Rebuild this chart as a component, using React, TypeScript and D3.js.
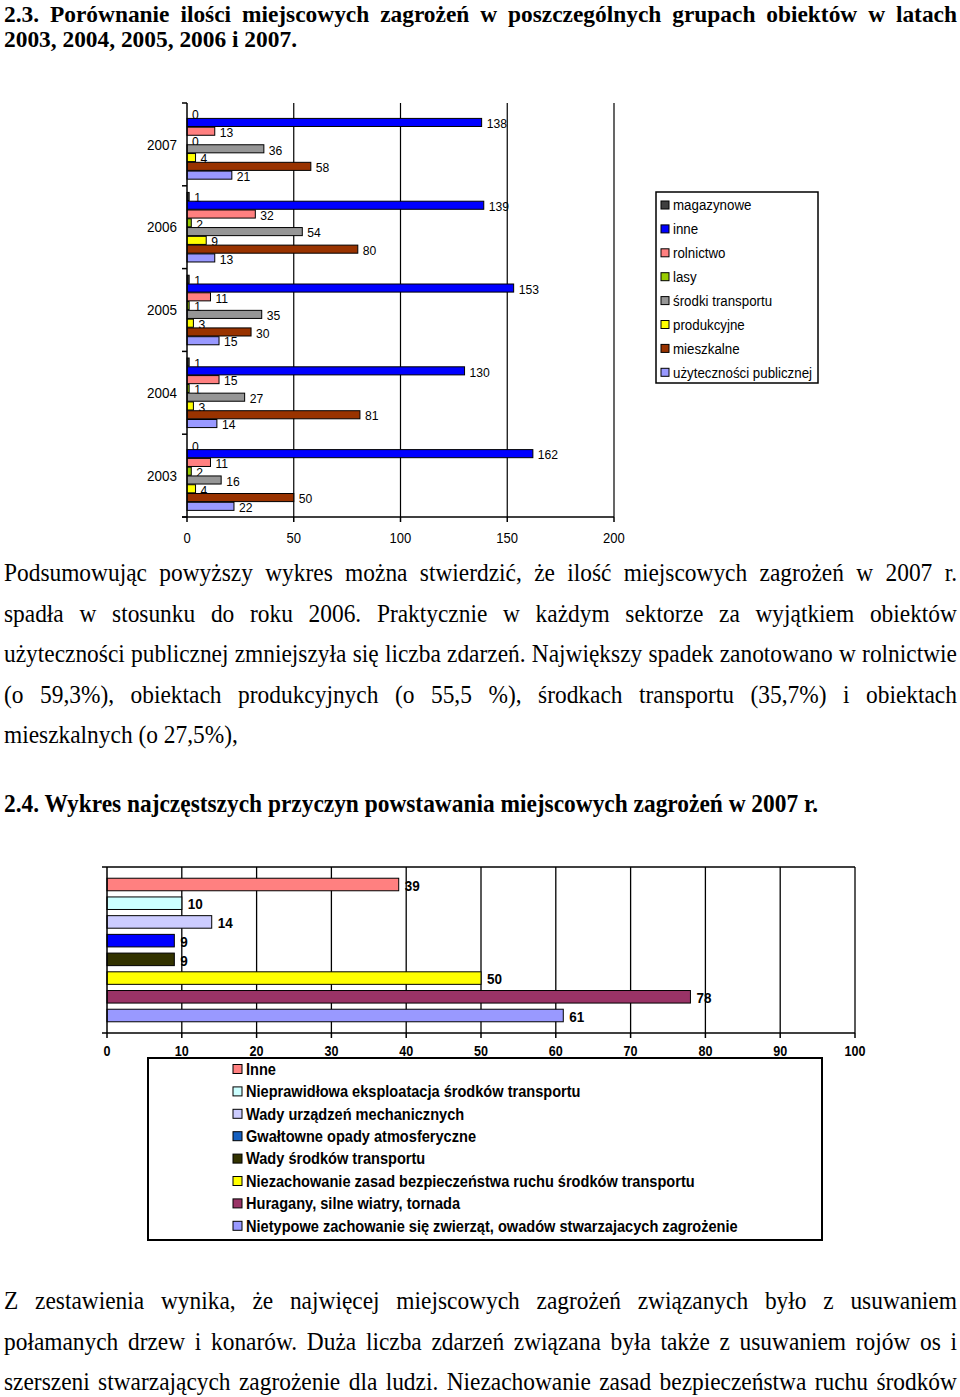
import React, { useMemo } from "react";
import * as d3 from "d3";

// the scanned page is squashed sideways, so every text gets this x-scale
const SX = 0.9;
const SANS = '"Liberation Sans", Arial, sans-serif';
const SERIF = '"Liberation Serif", "Times New Roman", serif';

// chart 2.3 — objects per year
const years = ["2007", "2006", "2005", "2004", "2003"];
const groups = ["magazynowe", "inne", "rolnictwo", "lasy", "środki transportu",
  "produkcyjne", "mieszkalne", "użyteczności publicznej"];
const groupColors = ["#404040", "#0000FF", "#FF8080", "#99CC00", "#969696",
  "#FFFF00", "#993300", "#9999FF"];
const v2007 = [0, 138, 13, 0, 36, 4, 58, 21];
const v2006 = [1, 139, 32, 2, 54, 9, 80, 13];
const v2005 = [1, 153, 11, 1, 35, 3, 30, 15];
const v2004 = [1, 130, 15, 1, 27, 3, 81, 14];
const v2003 = [0, 162, 11, 2, 16, 4, 50, 22];
const yearValues = [v2007, v2006, v2005, v2004, v2003];
const ticks1 = [0, 50, 100, 150, 200];

// chart 2.4 — causes in 2007
const causes = ["Inne", "Nieprawidłowa eksploatacja środków transportu",
  "Wady urządzeń mechanicznych", "Gwałtowne opady atmosferyczne",
  "Wady środków transportu",
  "Niezachowanie zasad bezpieczeństwa ruchu środków transportu",
  "Huragany, silne wiatry, tornada",
  "Nietypowe zachowanie się zwierząt, owadów stwarzajacych zagrożenie"];
const causeColors = ["#FF8080", "#CCFFFF", "#CCCCFF", "#0000FF", "#333300",
  "#FFFF00", "#993366", "#9999FF"];
const causeSwatch = ["#FF8080", "#CCFFFF", "#CCCCFF", "#1560C0", "#333300",
  "#FFFF00", "#993366", "#9999FF"];
const causeValues = [39, 10, 14, 9, 9, 50, 78, 61];
const ticks2 = [0, 10, 20, 30, 40, 50, 60, 70, 80, 90, 100];

// page text
const heading1 = ["2.3. Porównanie ilości miejscowych zagrożeń w poszczególnych grupach obiektów w latach",
  "2003, 2004, 2005, 2006 i 2007."];
const para1 = [
  "Podsumowując powyższy wykres można stwierdzić, że ilość miejscowych zagrożeń w 2007 r.",
  "spadła w stosunku do roku 2006. Praktycznie w każdym sektorze za wyjątkiem obiektów",
  "użyteczności publicznej zmniejszyła się liczba zdarzeń. Największy spadek zanotowano w rolnictwie",
  "(o 59,3%), obiektach produkcyjnych (o 55,5 %), środkach transportu (35,7%) i obiektach",
  "mieszkalnych (o 27,5%),"];
const heading2 = "2.4. Wykres najczęstszych przyczyn powstawania miejscowych zagrożeń w 2007 r.";
const para2 = [
  "Z zestawienia wynika, że najwięcej miejscowych zagrożeń związanych było z usuwaniem",
  "połamanych drzew i konarów. Duża liczba zdarzeń związana była także z usuwaniem rojów os i",
  "szerszeni stwarzających zagrożenie dla ludzi. Niezachowanie zasad bezpieczeństwa ruchu środków"];

let ctx: CanvasRenderingContext2D | null = null;
function measure(s: string, font: string) {
  if (!ctx) ctx = document.createElement("canvas").getContext("2d");
  ctx!.font = font;
  return ctx!.measureText(s).width;
}

function T({ x, y, size, bold, family = SANS, anchor = "start", central, sx = SX, children }: any) {
  return (
    <text transform={`translate(${x},${y}) scale(${sx},1)`} fontSize={size}
          fontWeight={bold ? "bold" : "normal"} fontFamily={family} textAnchor={anchor}
          dominantBaseline={central ? "central" : "auto"} fill="#000">{children}</text>
  );
}

function Line({ text, x, y, width, size, bold, justify, sx = SX }: any) {
  const font = `${bold ? "bold " : ""}${size}px "Liberation Serif"`;
  const words = text.split(" ");
  const widths = useMemo(() => words.map((w: string) => measure(w, font)), [text, font]);
  if (!justify) return <T x={x} y={y} size={size} bold={bold} family={SERIF} sx={sx}>{text}</T>;
  const gap = (width / sx - d3.sum(widths)) / (words.length - 1);
  let cx = 0;
  return (
    <text transform={`translate(${x},${y}) scale(${sx},1)`} fontSize={size}
          fontWeight={bold ? "bold" : "normal"} fontFamily={SERIF} fill="#000">
      {words.map((w: string, i: number) => {
        const el = <tspan key={i} x={cx}>{w}</tspan>;
        cx += widths[i] + gap;
        return el;
      })}
    </text>
  );
}

function ChartObjects() {
  const x = d3.scaleLinear().domain([0, 200]).range([187, 614]);
  const y = d3.scaleBand().domain(years).range([103, 517]).paddingInner(0.16).paddingOuter(0.08);
  const s = d3.scaleBand().domain(groups).range([0, y.bandwidth()]).paddingInner(0.08);
  const [top, bottom] = y.range();
  const edges = d3.range(years.length + 1).map((i) => top + i * y.step());
  return (
    <g>
      {ticks1.slice(1).map((t) => (
        <line key={t} x1={x(t)} x2={x(t)} y1={top} y2={bottom} stroke="#000" strokeWidth={1.2} />
      ))}
      {years.map((yr, yi) => (
        <g key={yr}>
          {groups.map((g, gi) => {
            const v = yearValues[yi][gi];
            const by = y(yr)! + s(g)!;
            return (
              <g key={g}>
                <rect x={x(0)} y={by} width={x(v) - x(0)} height={s.bandwidth()}
                      fill={groupColors[gi]} stroke="#000" strokeWidth={1} />
                <T x={x(v) + 5} y={by + s.bandwidth() / 2 + 1} size={13.5} central>{v}</T>
              </g>
            );
          })}
          <T x={177} y={y(yr)! + y.bandwidth() / 2} size={15} anchor="end" central>{yr}</T>
        </g>
      ))}
      <line x1={x(0)} x2={x(0)} y1={top} y2={bottom} stroke="#000" strokeWidth={1.5} />
      {edges.map((e) => (
        <line key={e} x1={x(0) - 5} x2={x(0)} y1={e} y2={e} stroke="#000" strokeWidth={1.5} />
      ))}
      <line x1={x(0) - 5} x2={x(200)} y1={bottom} y2={bottom} stroke="#000" strokeWidth={1.5} />
      {ticks1.map((t) => (
        <g key={t}>
          <line x1={x(t)} x2={x(t)} y1={bottom} y2={bottom + 5} stroke="#000" strokeWidth={1.5} />
          <T x={x(t)} y={538} size={14.5} anchor="middle" central>{t}</T>
        </g>
      ))}
      <rect x={656} y={192} width={162} height={191} fill="#fff" stroke="#000" strokeWidth={1.5} />
      {groups.map((g, i) => (
        <g key={g}>
          <rect x={661} y={205 + i * 23.9 - 4} width={8} height={8} fill={groupColors[i]}
                stroke="#000" strokeWidth={1} />
          <T x={673} y={205 + i * 23.9} size={14.8} central>{g}</T>
        </g>
      ))}
    </g>
  );
}

function ChartCauses() {
  const x = d3.scaleLinear().domain([0, 100]).range([107, 855]);
  const y = d3.scaleBand().domain(causes).range([867, 1033]).paddingInner(0.33).paddingOuter(0.6);
  const [top, bottom] = y.range();
  return (
    <g>
      <line x1={x(0)} x2={x(100)} y1={top} y2={top} stroke="#000" strokeWidth={1.5} />
      {ticks2.slice(1).map((t) => (
        <line key={t} x1={x(t)} x2={x(t)} y1={top} y2={bottom} stroke="#000" strokeWidth={1.3} />
      ))}
      {causes.map((c, i) => (
        <g key={c}>
          <rect x={x(0)} y={y(c)} width={x(causeValues[i]) - x(0)} height={y.bandwidth()}
                fill={causeColors[i]} stroke="#000" strokeWidth={1} />
          <T x={x(causeValues[i]) + 6} y={y(c)! + y.bandwidth() / 2 + 1} size={15} bold central>
            {causeValues[i]}
          </T>
        </g>
      ))}
      <line x1={x(0)} x2={x(0)} y1={top} y2={bottom} stroke="#000" strokeWidth={1.5} />
      {[top, bottom].map((e) => (
        <line key={e} x1={x(0) - 5} x2={x(0)} y1={e} y2={e} stroke="#000" strokeWidth={1.5} />
      ))}
      <line x1={x(0)} x2={x(100)} y1={bottom} y2={bottom} stroke="#000" strokeWidth={1.5} />
      {ticks2.map((t) => (
        <g key={t}>
          <line x1={x(t)} x2={x(t)} y1={bottom} y2={bottom + 5} stroke="#000" strokeWidth={1.5} />
          <T x={x(t)} y={1051} size={14} bold anchor="middle" central>{t}</T>
        </g>
      ))}
      <rect x={148} y={1058} width={674} height={182} fill="#fff" stroke="#000" strokeWidth={2} />
      {causes.map((c, i) => (
        <g key={c}>
          <rect x={233} y={1069 + i * 22.4 - 4.5} width={9} height={9} fill={causeSwatch[i]}
                stroke="#000" strokeWidth={1} />
          <T x={246} y={1069 + i * 22.4} size={16.2} bold central>{c}</T>
        </g>
      ))}
    </g>
  );
}

export default function App() {
  const L = 4, W = 953;
  const HS = 0.975; // heading: a touch smaller, so it stays inside the top edge
  return (
    <svg width={960} height={1397} style={{ position: "absolute", left: 0, top: 0, background: "#fff" }}>
      <rect width={960} height={1397} fill="#fff" />
      <Line text={heading1[0]} x={L} y={21.5} width={W} size={24} bold justify sx={HS} />
      <Line text={heading1[1]} x={L} y={46.5} width={W} size={24} bold sx={HS} />
      <ChartObjects />
      {para1.map((t, i) => (
        <Line key={i} text={t} x={L} y={581 + i * 40.6} width={W} size={26}
              justify={i < para1.length - 1} />
      ))}
      <Line text={heading2} x={L} y={812} width={W} size={26} bold />
      <ChartCauses />
      {para2.map((t, i) => (
        <Line key={i} text={t} x={L} y={1309 + i * 40.6} width={W} size={26} justify />
      ))}
    </svg>
  );
}
